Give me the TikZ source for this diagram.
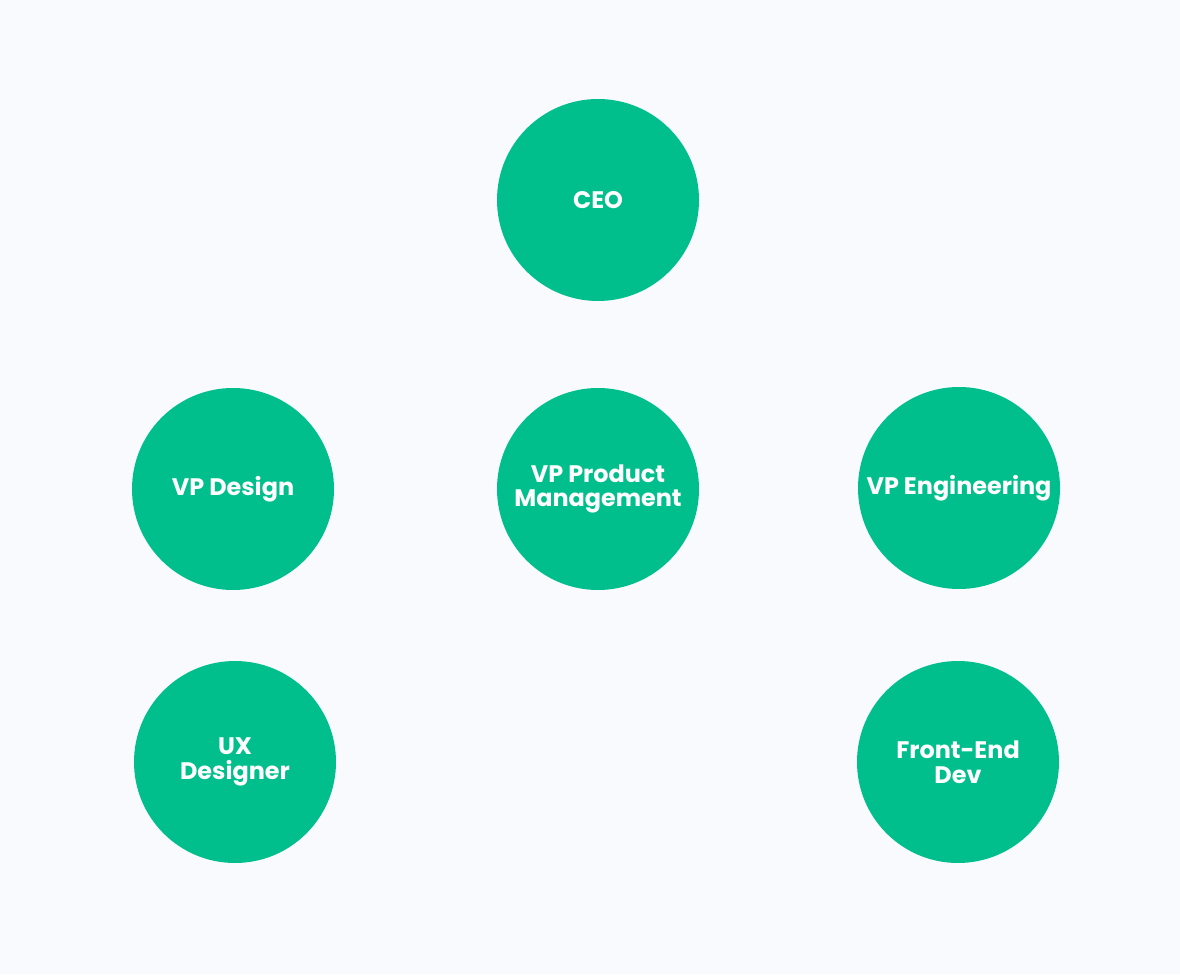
\documentclass[tikz,border=0pt]{standalone}
\usepackage{fontspec}
\setmainfont{Poppins}
\usepackage{xcolor}
\definecolor{bgpage}{HTML}{F8FAFE}
\definecolor{orggreen}{HTML}{00BF8C}

\begin{document}
\begin{tikzpicture}[
			role/.style={circle, fill=orggreen, minimum size=5.05cm, inner sep=0pt,
				text=white, font=\bfseries\fontsize{17}{17.5}\selectfont, align=center}]
			
			% Sfondo
			\fill[bgpage] (0,0) rectangle (29.5,24.35);
			\useasboundingbox (0,0) rectangle (29.5,24.35);
			
			% Vertice
			\node[role] (ceo) at (14.95,19.35) {CEO};
			
			% Vice presidenti
			\node[role] (vpd) at (5.825,12.125) {VP Design};
			\node[role] (vpp) at (14.95,12.125) {VP Product\\Management};
			\node[role] (vpe) at (23.975,12.15) {VP Engineering};
			
			% Team
			\node[role] (ux) at (5.875,5.3) {UX\\Designer};
			\node[role] (fe) at (23.95,5.3) {Front-End\\Dev};
		\end{tikzpicture}
\end{document}
